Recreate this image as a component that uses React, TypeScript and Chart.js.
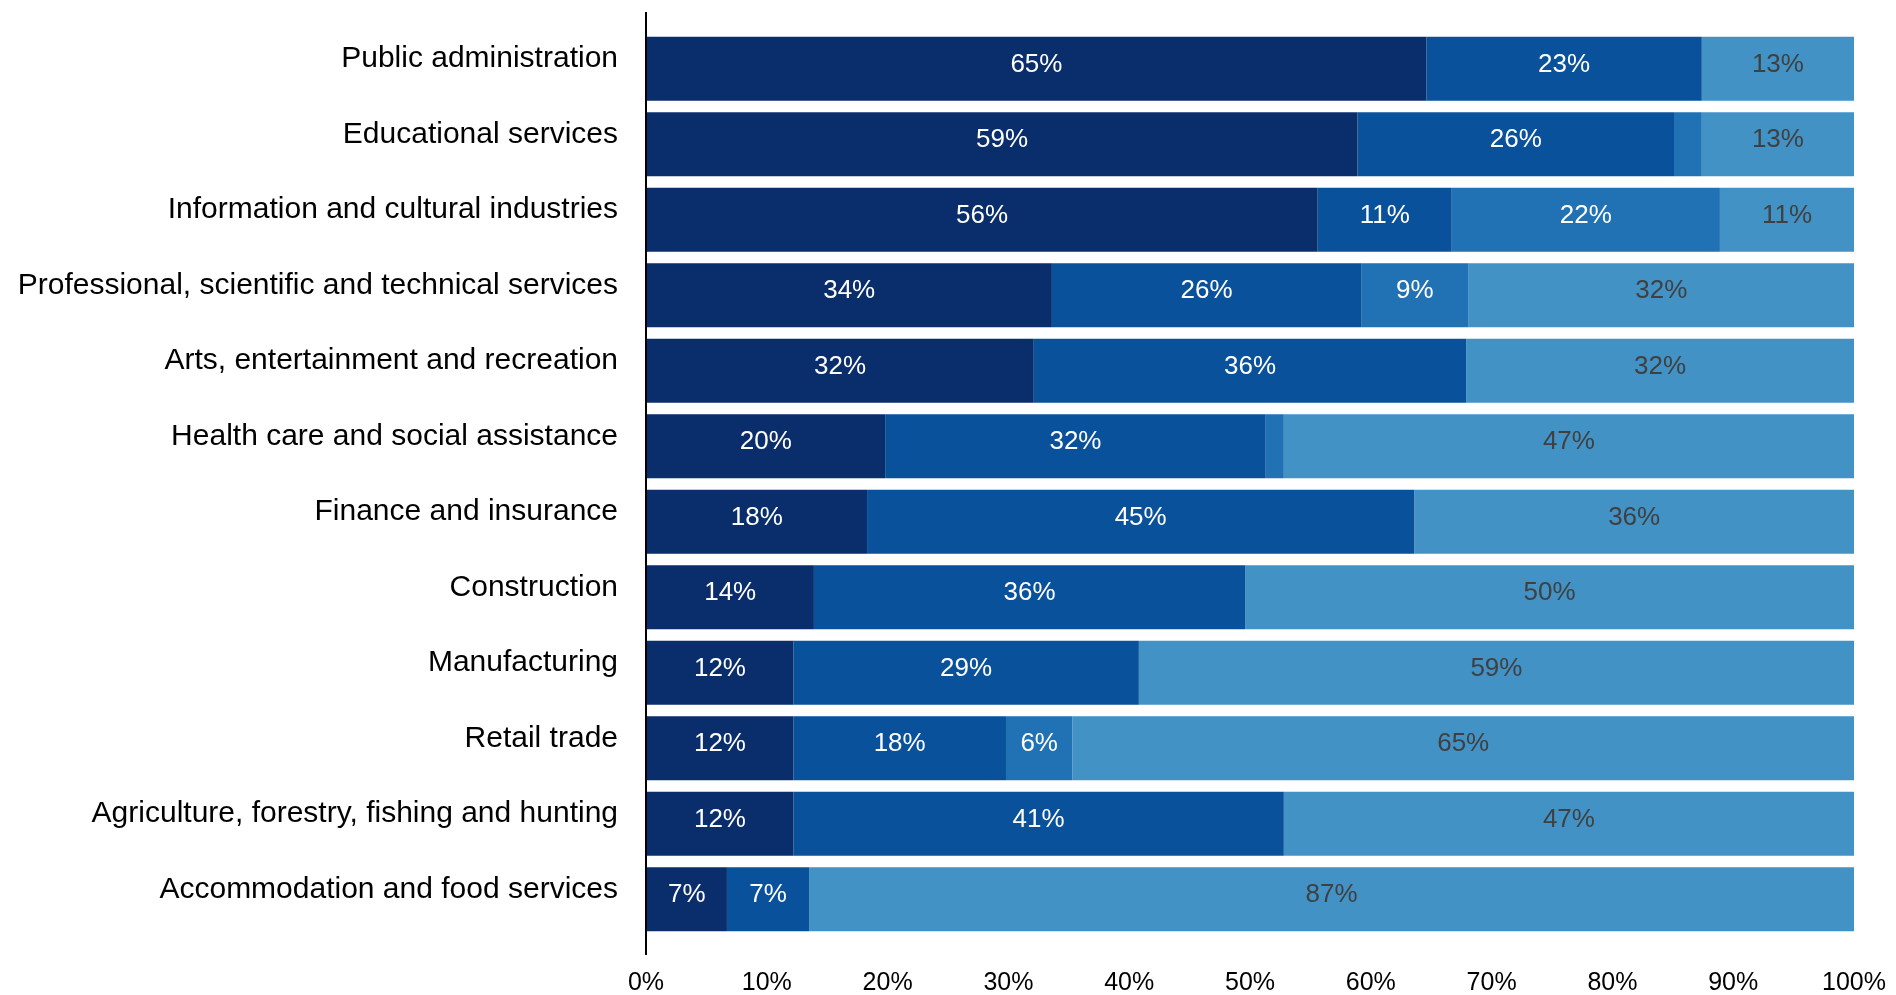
import React, { useEffect, useRef } from "react";
import { Chart, registerables } from "chart.js";

Chart.register(...registerables);

const categories = [
  "Public administration",
  "Educational services",
  "Information and cultural industries",
  "Professional, scientific and technical services",
  "Arts, entertainment and recreation",
  "Health care and social assistance",
  "Finance and insurance",
  "Construction",
  "Manufacturing",
  "Retail trade",
  "Agriculture, forestry, fishing and hunting",
  "Accommodation and food services",
];

const series1 = [64.6, 58.9, 55.6, 33.6, 32.1, 19.8, 18.3, 13.9, 12.2, 12.2, 12.2, 6.7];
const series2 = [22.8, 26.2, 11.1, 25.6, 35.8, 31.5, 45.3, 35.7, 28.6, 17.6, 40.6, 6.8];
const series3 = [0, 2.3, 22.2, 8.9, 0, 1.5, 0, 0, 0, 5.5, 0, 0];
const series4 = [12.6, 12.6, 11.1, 31.9, 32.1, 47.2, 36.4, 50.4, 59.2, 64.7, 47.2, 86.5];

const xTicks = [0, 10, 20, 30, 40, 50, 60, 70, 80, 90, 100];

const colors = ["#0a2e6b", "#0a519c", "#2171b5", "#4292c6"];
const labelColors = ["#ffffff", "#ffffff", "#ffffff", "#404040"];
const FONT = "'Liberation Sans', Arial, Helvetica, sans-serif";

const dataLabelPlugin = {
  id: "dataLabels",
  afterDatasetsDraw(chart: any) {
    const ctx = chart.ctx;
    ctx.save();
    ctx.font = `26px ${FONT}`;
    ctx.textAlign = "center";
    ctx.textBaseline = "middle";
    chart.data.datasets.forEach((ds: any, i: number) => {
      const meta = chart.getDatasetMeta(i);
      meta.data.forEach((bar: any, j: number) => {
        const v = ds.data[j];
        if (v < 4) return;
        const cx = (bar.x + bar.base) / 2;
        ctx.fillStyle = labelColors[i];
        ctx.fillText(Math.round(v) + "%", cx, bar.y - 4);
      });
    });
    ctx.restore();
  },
};

const axisLinePlugin = {
  id: "axisLine",
  afterDraw(chart: any) {
    const { ctx, chartArea } = chart;
    ctx.save();
    ctx.strokeStyle = "#000000";
    ctx.lineWidth = 2;
    ctx.beginPath();
    ctx.moveTo(chartArea.left, chartArea.top - 19);
    ctx.lineTo(chartArea.left, chartArea.bottom + 18);
    ctx.stroke();
    ctx.restore();
  },
};

export default function App() {
  const ref = useRef<HTMLCanvasElement | null>(null);

  useEffect(() => {
    if (!ref.current) return;
    const seriesList = [series1, series2, series3, series4];
    const chart = new Chart(ref.current, {
      type: "bar",
      data: {
        labels: categories,
        datasets: seriesList.map((d, i) => ({
          label: "Series " + (i + 1),
          data: d,
          backgroundColor: colors[i],
          borderWidth: 0,
          categoryPercentage: 1,
          barPercentage: 0.848,
        })),
      },
      options: {
        indexAxis: "y",
        animation: false,
        responsive: false,
        devicePixelRatio: 1,
        layout: { padding: { top: 31, right: 42, left: 0, bottom: 0 } },
        plugins: {
          legend: { display: false },
          tooltip: { enabled: false },
          title: { display: false },
        },
        scales: {
          x: {
            stacked: true,
            min: 0,
            max: 100,
            grid: {
              display: true,
              drawOnChartArea: false,
              drawTicks: true,
              tickLength: 31,
              color: "rgba(0,0,0,0)",
            },
            border: { display: false },
            afterBuildTicks: (scale: any) => {
              scale.ticks = xTicks.map((v) => ({ value: v }));
            },
            afterFit: (scale: any) => {
              scale.height = 58;
            },
            ticks: {
              padding: 0,
              color: "#000000",
              font: { family: FONT, size: 25 },
              maxRotation: 0,
              autoSkip: false,
              callback: (v: any) => v + "%",
            },
          },
          y: {
            stacked: true,
            grid: {
              display: true,
              drawOnChartArea: false,
              drawTicks: true,
              tickLength: 28,
              color: "rgba(0,0,0,0)",
            },
            border: { display: false },
            afterFit: (scale: any) => {
              scale.width = 646;
            },
            ticks: {
              padding: 0,
              labelOffset: -10,
              color: "#000000",
              font: { family: FONT, size: 30 },
              autoSkip: false,
            },
          },
        },
      },
      plugins: [dataLabelPlugin, axisLinePlugin],
    } as any);
    return () => chart.destroy();
  }, []);

  return (
    <div style={{ position: "absolute", left: 0, top: 0, width: 1896, height: 995, background: "#ffffff" }}>
      <canvas ref={ref} width={1896} height={995} style={{ display: "block" }} />
    </div>
  );
}
